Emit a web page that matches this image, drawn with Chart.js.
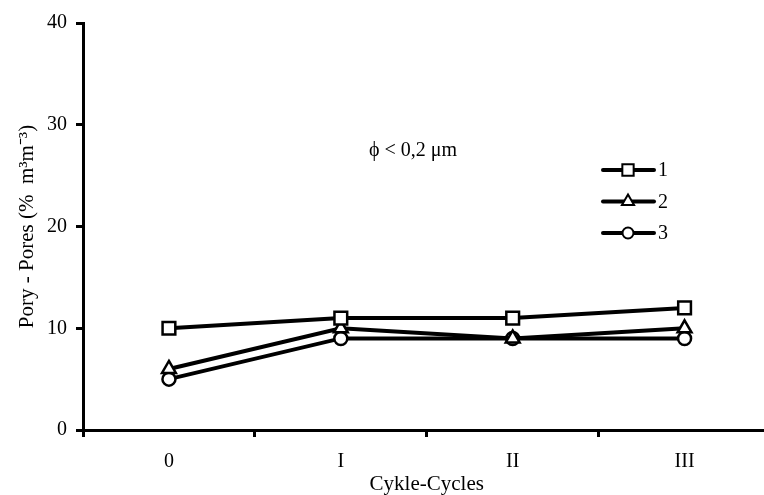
<!DOCTYPE html>
<html>
<head>
<meta charset="utf-8">
<script src="https://cdn.jsdelivr.net/npm/chart.js@4"></script>
<style>
  html, body { margin: 0; padding: 0; background: #fff; overflow: hidden; }
  #wrap { width: 764px; height: 495px; overflow: hidden; }
  #chart { display: block; width: 782px; height: 495px; }
</style>
</head>
<body>
<!-- canvas is a bit wider than the window: the x axis runs off the right edge -->
<div id="wrap"><canvas id="chart" width="782" height="495"></canvas></div>
<script>
const cycles = ["0", "I", "II", "III"];
const series1 = [10, 11, 11, 12];
const series2 = [6, 10, 9, 10];
const series3 = [5, 9, 9, 9];
const seriesNames = ["1", "2", "3"];
const yTicks = [0, 10, 20, 30, 40];

const serif = "'Liberation Serif', 'Times New Roman', serif";

function makeSet(label, data, style, radius) {
  return {
    label,
    data,
    borderColor: "#000",
    borderWidth: 4,
    tension: 0,
    pointStyle: style,
    pointRadius: radius,
    pointHoverRadius: radius,
    pointBorderWidth: 2.5,
    pointBackgroundColor: "#fff",
    pointBorderColor: "#000",
    clip: false
  };
}

// legend (line + marker) and the pore size note
const extras = {
  id: "extras",
  afterDraw(chart) {
    const ctx = chart.ctx;
    ctx.save();
    ctx.fillStyle = "#000";
    ctx.font = "20px " + serif;
    ctx.textBaseline = "middle";
    ctx.textAlign = "left";
    ctx.fillText("\u03d5 < 0,2 \u03bcm", 369, 151);

    chart.data.datasets.forEach((ds, i) => {
      const y = 170 + i * 31.5;
      ctx.strokeStyle = "#000";
      ctx.lineWidth = 4;
      ctx.lineCap = "round";
      ctx.beginPath();
      ctx.moveTo(603, y);
      ctx.lineTo(654, y);
      ctx.stroke();
      ctx.fillStyle = "#fff";
      ctx.lineWidth = 2;
      Chart.helpers.drawPoint(ctx, { pointStyle: ds.pointStyle, radius: ds.pointRadius - 1, rotation: 0, borderWidth: 2 }, 628, y);
      ctx.fillStyle = "#000";
      ctx.fillText(ds.label, 658, y + 1);
    });
    ctx.restore();
  }
};

new Chart(document.getElementById("chart"), {
  type: "line",
  data: {
    labels: cycles,
    datasets: [
      makeSet(seriesNames[0], series1, "rect", 9),
      makeSet(seriesNames[1], series2, "triangle", 8),
      makeSet(seriesNames[2], series3, "circle", 6.5)
    ]
  },
  options: {
    responsive: false,
    animation: false,
    devicePixelRatio: 1,
    layout: { padding: { top: 23, right: 0, left: 0, bottom: 0 } },
    plugins: { legend: { display: false }, tooltip: { enabled: false } },
    scales: {
      x: {
        offset: true,
        grid: { offset: true, drawOnChartArea: false, drawTicks: true, tickLength: 7, color: "#000", lineWidth: 3 },
        border: { display: true, color: "#000", width: 3 },
        ticks: { color: "#000", font: { family: serif, size: 20 }, padding: 13 },
        title: { display: true, text: "Cykle-Cycles", color: "#000", font: { family: serif, size: 21 }, padding: { top: 0, bottom: -2 } },
        afterFit(s) { s.height = 65; }
      },
      y: {
        min: 0,
        max: 40,
        afterBuildTicks(s) { s.ticks = yTicks.map(v => ({ value: v })); },
        grid: { drawOnChartArea: false, drawTicks: true, tickLength: 7, color: "#000", lineWidth: 3 },
        border: { display: true, color: "#000", width: 3 },
        ticks: { color: "#000", font: { family: serif, size: 20 }, padding: 9 },
        title: { display: true, text: "Pory - Pores (%  m\u00b3m\u207b\u00b3)", color: "#000", font: { family: serif, size: 21 }, padding: { top: 15, bottom: 0 } },
        afterFit(s) { s.width = 83; }
      }
    }
  },
  plugins: [extras]
});
</script>
</body>
</html>
